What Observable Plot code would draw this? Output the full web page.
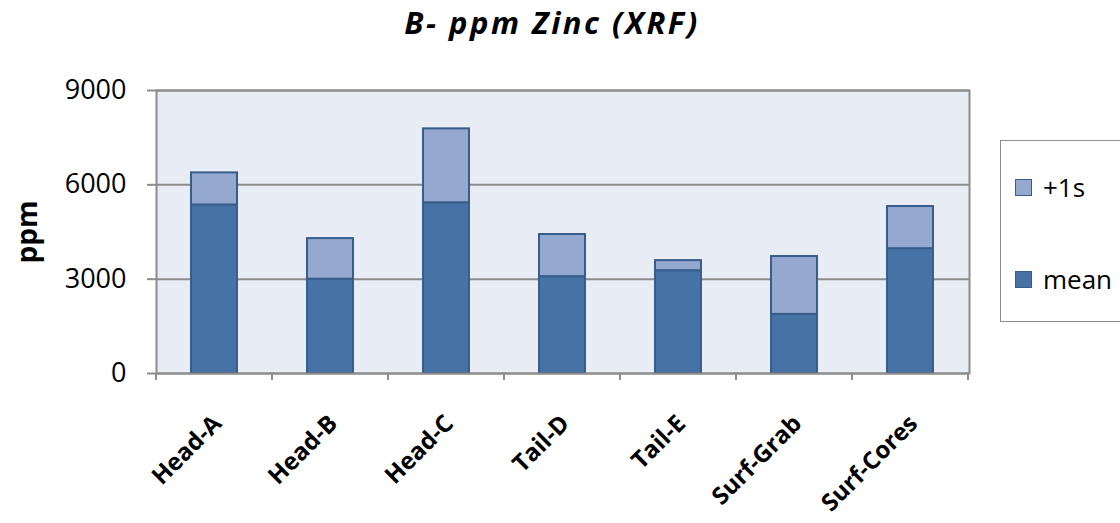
<!DOCTYPE html>
<html>
<head>
<meta charset="utf-8">
<script src="https://cdn.jsdelivr.net/npm/d3@7"></script>
<script src="https://cdn.jsdelivr.net/npm/@observablehq/plot@0.6"></script>
<style>
  html, body { margin: 0; padding: 0; background: #fff; }
  #wrap { position: relative; width: 1120px; height: 523px; overflow: hidden; font-family: "Open Sans", sans-serif; }
  #title { position: absolute; left: 0; top: 2px; width: 1104px; text-align: center; font-size: 31px; letter-spacing: 2.5px; font-weight: bold; font-style: italic; line-height: 1.3; color: #000; }
  #legend { position: absolute; left: 1000px; top: 140px; width: 140px; height: 182px; border: 1.5px solid #8c8c8c; box-sizing: border-box; background: #fff; }
  .li { position: absolute; left: 14px; display: flex; align-items: center; font-size: 26px; color: #000; }
  .sw { width: 17px; height: 17px; border: 1.5px solid #385d8a; margin-right: 11px; box-sizing: border-box; }
  #chart { position: absolute; left: 0; top: 0; }
</style>
</head>
<body>
<div id="wrap">
  <div id="chart"></div>
  <div id="title">B- ppm Zinc (XRF)</div>
  <div id="legend"></div>
</div>
<script>
const categories = ["Head-A", "Head-B", "Head-C", "Tail-D", "Tail-E", "Surf-Grab", "Surf-Cores"];
const meanValues = [5360, 3000, 5430, 3080, 3270, 1880, 3970];
const sdValues   = [1020, 1290, 2350, 1340, 320, 1840, 1340];
const seriesNames = ["mean", "+1s"];
const seriesColors = ["#4672a6", "#95a9d0"];
const yTicks = [0, 3000, 6000, 9000];

const rows = [];
categories.forEach((c, i) => rows.push({cat: c, series: "mean", value: meanValues[i]}));
categories.forEach((c, i) => rows.push({cat: c, series: "+1s", value: sdValues[i]}));

const gray = "#8c8c8c";

function bandTicks(index, scales, values, dimensions) {
  const x = scales.x;
  const bw = x.bandwidth ? x.bandwidth() : 0;
  const step = x.step ? x.step() : (dimensions.width - dimensions.marginLeft - dimensions.marginRight) / categories.length;
  const y0 = dimensions.height - dimensions.marginBottom;
  const bounds = categories.map(c => x(c) + bw / 2 - step / 2);
  bounds.push(bounds[bounds.length - 1] + step);
  const g = d3.create("svg:g");
  g.selectAll("line").data(bounds).join("line")
    .attr("x1", d => d).attr("x2", d => d)
    .attr("y1", y0).attr("y2", y0 + 7)
    .attr("stroke", gray).attr("stroke-width", 2);
  return g.node();
}

const chart = Plot.plot({
  width: 1120,
  height: 523,
  marginLeft: 156,
  marginRight: 151,
  marginTop: 90,
  marginBottom: 150,
  style: { fontFamily: "Open Sans, sans-serif", background: "transparent" },
  x: { domain: categories, paddingInner: 0.6, paddingOuter: 0.3, axis: null },
  y: { domain: [0, 9000], axis: null },
  color: { domain: seriesNames, range: seriesColors },
  marks: [
    Plot.frame({ fill: "#e8ecf4", stroke: null }),
    Plot.gridY(yTicks, { stroke: gray, strokeOpacity: 1, strokeWidth: 2 }),
    Plot.barY(rows, Plot.stackY({ x: "cat", y: "value", z: "series", fill: "series", stroke: "#385d8a", strokeWidth: 2, order: seriesNames })),
    Plot.frame({ stroke: gray, strokeWidth: 2 }),
    Plot.axisY({ ticks: yTicks, tickSize: 9, text: null, stroke: gray, strokeWidth: 2, label: null }),
    Plot.axisY({ ticks: yTicks, tickSize: 0, tickPadding: 30, fontSize: 27, label: null, tickFormat: d => String(d) }),
    bandTicks,
    Plot.text(categories, { x: d => d, frameAnchor: "bottom", rotate: -45, textAnchor: "end", lineAnchor: "middle", dx: 3, dy: 46, fontWeight: "bold", fontSize: 24, fill: "#000" }),
    Plot.text(["ppm"], { frameAnchor: "left", dx: -128, rotate: -90, textAnchor: "middle", lineAnchor: "middle", fontWeight: "bold", fontSize: 28, fill: "#000" })
  ]
});
document.getElementById("chart").appendChild(chart);

const legend = document.getElementById("legend");
const legendItems = [["+1s", seriesColors[1], 28], ["mean", seriesColors[0], 120]];
legendItems.forEach(([name, col, top]) => {
  const d = document.createElement("div");
  d.className = "li";
  d.style.top = top + "px";
  d.innerHTML = `<div class="sw" style="background:${col}"></div><span>${name}</span>`;
  legend.appendChild(d);
});
</script>
</body>
</html>
